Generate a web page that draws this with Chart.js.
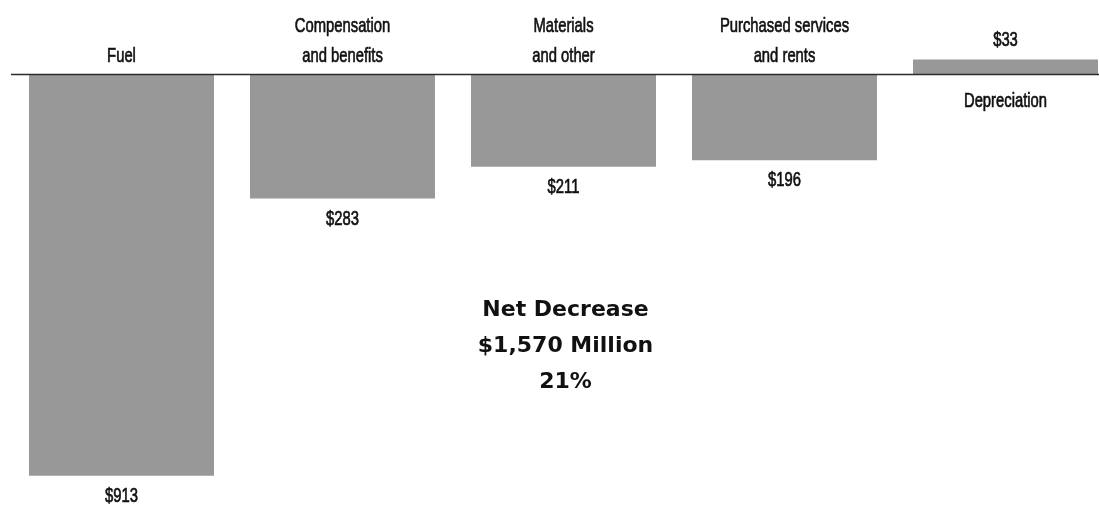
<!DOCTYPE html>
<html>
<head>
<meta charset="utf-8">
<script src="https://cdn.jsdelivr.net/npm/chart.js@4"></script>
<style>
  html, body { margin: 0; padding: 0; background: #fff; overflow: hidden; }
  #wrap { position: relative; width: 1116px; height: 506px; }
</style>
</head>
<body>
<div id="wrap"><canvas id="chart"></canvas></div>
<script>
// Change in operating expenses by category, $ millions
const categories = [
  ['Fuel'],
  ['Compensation', 'and benefits'],
  ['Materials', 'and other'],
  ['Purchased services', 'and rents'],
  ['Depreciation']
];
const changes = [-913, -283, -211, -196, 33];
const summaryLines = ['Net Decrease', '$1,570 Million', '21%'];

const barColor = '#989898';
const labelFont = '21px "Liberation Sans", Arial, sans-serif';
const labelSqueeze = 0.705;   // condensed look for the category/value labels
const summaryFont = 'bold 22px "DejaVu Sans", "Lato", sans-serif';

const fmt = v => '$' + Math.abs(v).toLocaleString('en-US');

function condensedText(ctx, text, x, y) {
  ctx.save();
  ctx.translate(x, y);
  ctx.scale(labelSqueeze, 1);
  ctx.fillText(text, 0, 0);
  ctx.strokeText(text, 0, 0);
  ctx.restore();
}

// Zero line across the plot
const baselinePlugin = {
  id: 'baseline',
  afterDatasetsDraw(chart) {
    const { ctx, chartArea, scales } = chart;
    const y = Math.round(scales.y.getPixelForValue(0)) + 0.5;
    ctx.save();
    ctx.strokeStyle = '#2b2b2b';
    ctx.lineWidth = 1.5;
    ctx.beginPath();
    ctx.moveTo(chartArea.left, y);
    ctx.lineTo(chartArea.right, y);
    ctx.stroke();
    ctx.restore();
  }
};

// Category names on the side of the zero line away from the bar, values at the bar end
const barLabelPlugin = {
  id: 'barLabels',
  afterDraw(chart) {
    const { ctx, scales } = chart;
    const zero = scales.y.getPixelForValue(0);
    const meta = chart.getDatasetMeta(0);
    ctx.save();
    ctx.font = labelFont;
    ctx.fillStyle = '#111';
    ctx.strokeStyle = '#111';
    ctx.lineWidth = 0.7;
    ctx.textAlign = 'center';
    ctx.textBaseline = 'alphabetic';
    const lineH = 30;
    meta.data.forEach((bar, i) => {
      const v = changes[i];
      const lines = categories[i];
      const x = bar.x;
      if (v < 0) {
        lines.forEach((t, j) => {
          condensedText(ctx, t, x, zero - 12 - (lines.length - 1 - j) * lineH);
        });
        condensedText(ctx, fmt(v), x, bar.y + 26);
      } else {
        lines.forEach((t, j) => {
          condensedText(ctx, t, x, zero + 33 + j * lineH);
        });
        condensedText(ctx, fmt(v), x, bar.y - 13);
      }
    });
    ctx.restore();
  }
};

// Net change summary in the middle of the plot
const summaryPlugin = {
  id: 'summary',
  afterDraw(chart) {
    const { ctx, chartArea } = chart;
    const cx = (chartArea.left + chartArea.right) / 2 + 2;
    ctx.save();
    ctx.font = summaryFont;
    ctx.fillStyle = '#111';
    ctx.textAlign = 'center';
    ctx.textBaseline = 'alphabetic';
    summaryLines.forEach((t, i) => ctx.fillText(t, cx, 316 + i * 36));
    ctx.restore();
  }
};

new Chart(document.getElementById('chart'), {
  type: 'bar',
  data: {
    labels: categories,
    datasets: [{
      data: changes,
      backgroundColor: barColor,
      borderWidth: 0,
      categoryPercentage: 1,
      barPercentage: 0.837
    }]
  },
  options: {
    responsive: true,
    maintainAspectRatio: false,
    animation: false,
    layout: { padding: { left: 11, right: 0, top: 0, bottom: 0 } },
    plugins: { legend: { display: false }, tooltip: { enabled: false } },
    scales: {
      x: { display: false },
      y: { display: false, min: -981.8, max: 168.2 }
    }
  },
  plugins: [baselinePlugin, barLabelPlugin, summaryPlugin]
});
</script>
</body>
</html>
